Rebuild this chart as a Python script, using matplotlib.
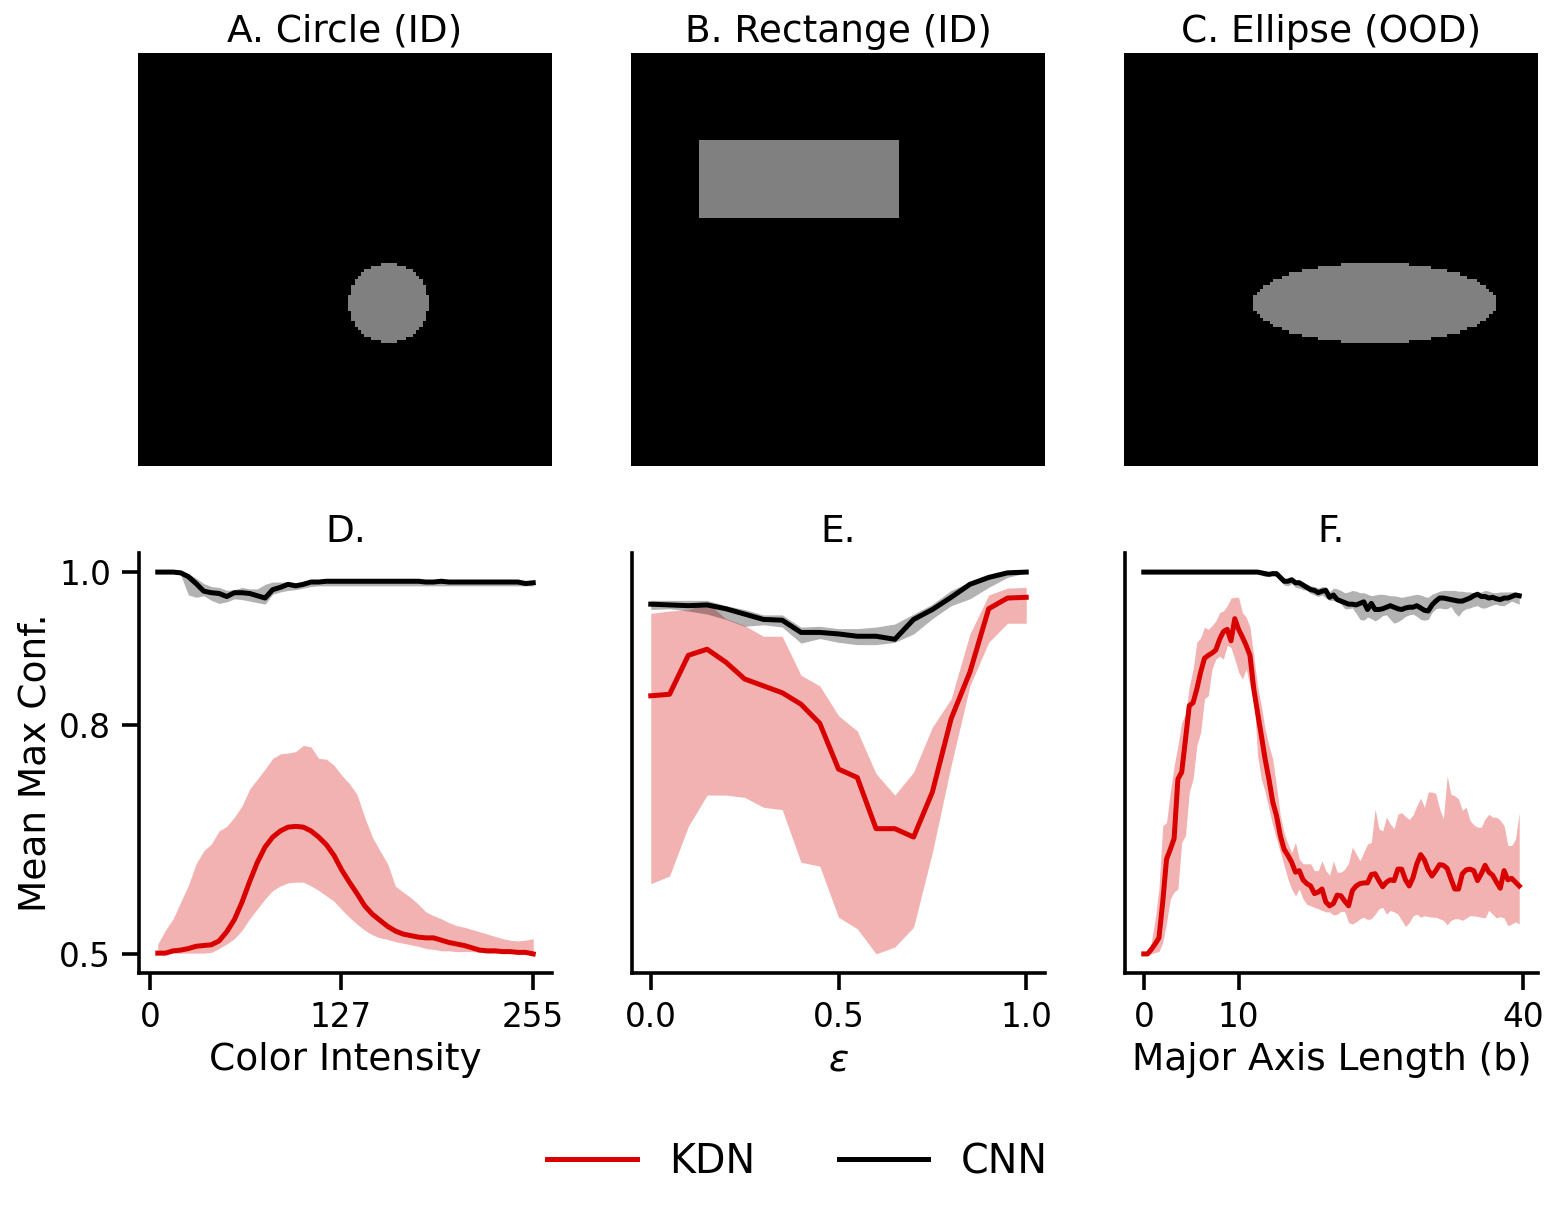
import numpy as np
import matplotlib
matplotlib.use("Agg")
import matplotlib.pyplot as plt

# ---------------- data ----------------
# Panel D: colour intensity sweep
d_x_step = 5.1
d_kdn_mean = [0.501,0.501,0.504,0.505,0.507,0.510,0.511,0.512,0.517,0.529,0.545,0.568,0.595,0.620,0.640,0.653,0.661,0.666,0.667,0.666,
              0.661,0.653,0.643,0.629,0.610,0.594,0.579,0.563,0.552,0.544,0.536,0.530,0.526,0.524,0.522,0.521,0.521,0.518,0.515,0.513,
              0.511,0.508,0.505,0.504,0.504,0.503,0.503,0.502,0.502,0.500]
d_kdn_hi = [0.513,0.531,0.546,0.568,0.590,0.618,0.635,0.644,0.661,0.667,0.679,0.694,0.716,0.729,0.742,0.756,0.762,0.763,0.765,0.773,
            0.771,0.756,0.755,0.747,0.734,0.723,0.709,0.679,0.653,0.635,0.618,0.589,0.581,0.574,0.565,0.555,0.550,0.546,0.541,0.537,
            0.535,0.532,0.529,0.526,0.523,0.520,0.518,0.517,0.518,0.520]
d_kdn_lo = [0.500,0.500,0.501,0.501,0.501,0.501,0.501,0.502,0.507,0.513,0.520,0.531,0.546,0.559,0.572,0.583,0.589,0.593,0.594,0.594,
            0.589,0.583,0.576,0.569,0.558,0.548,0.539,0.531,0.525,0.521,0.519,0.516,0.514,0.512,0.510,0.507,0.506,0.504,0.504,0.503,
            0.503,0.503,0.502,0.501,0.501,0.501,0.501,0.500,0.500,0.499]
d_cnn_mean = [1.000,1.000,1.000,0.999,0.994,0.985,0.975,0.973,0.972,0.968,0.973,0.973,0.972,0.969,0.966,0.977,0.980,0.984,0.982,0.984,
              0.987,0.987,0.988,0.988,0.988,0.988,0.988,0.988,0.988,0.988,0.988,0.988,0.988,0.988,0.988,0.987,0.987,0.988,0.987,0.987,
              0.987,0.987,0.987,0.987,0.987,0.987,0.987,0.987,0.985,0.986]
d_cnn_lo = [1.000,1.000,1.000,0.996,0.970,0.967,0.969,0.963,0.959,0.961,0.965,0.964,0.962,0.960,0.958,0.971,0.974,0.976,0.977,0.979,
            0.981] + [0.982] * 29
d_cnn_hi = [1.000,1.000,1.000,1.000,0.998,0.992,0.985,0.981,0.980,0.976,0.977,0.980,0.978,0.978,0.984,0.987,0.987,0.987,0.986,0.987,
            0.988] + [0.989] * 29

# Panel E: epsilon sweep
e_kdn_mean = [0.838,0.840,0.891,0.899,0.882,0.860,0.851,0.842,0.827,0.802,0.742,0.731,0.664,0.664,0.653,0.712,0.808,0.869,0.952,0.966,0.967]
e_kdn_hi = [0.946,0.949,0.951,0.960,0.939,0.930,0.916,0.916,0.865,0.851,0.812,0.792,0.736,0.708,0.738,0.797,0.834,0.919,0.970,0.979,0.980]
e_kdn_lo = [0.592,0.602,0.667,0.708,0.708,0.705,0.692,0.689,0.620,0.615,0.548,0.533,0.500,0.509,0.535,0.633,0.747,0.851,0.908,0.933,0.933]
e_cnn_mean = [0.958,0.957,0.956,0.957,0.952,0.945,0.938,0.937,0.921,0.921,0.919,0.916,0.916,0.912,0.938,0.951,0.967,0.984,0.993,0.999,1.000]
e_cnn_hi = [0.963,0.963,0.963,0.963,0.956,0.951,0.944,0.944,0.928,0.929,0.926,0.926,0.928,0.932,0.945,0.958,0.976,0.987,0.995,1.000,1.000]
e_cnn_lo = [0.951,0.952,0.949,0.945,0.938,0.929,0.931,0.928,0.907,0.913,0.908,0.905,0.905,0.908,0.919,0.939,0.956,0.965,0.980,0.993,0.999]

# Panel F: major axis length sweep
f_x_step = 0.4
f_kdn_mean = [0.500,0.500,0.506,0.513,0.521,0.568,0.624,0.637,0.651,0.729,0.738,0.781,0.825,0.829,0.847,0.869,0.887,0.891,0.894,0.898,
              0.912,0.922,0.925,0.910,0.939,0.925,0.915,0.904,0.891,0.847,0.816,0.786,0.755,0.729,0.699,0.681,0.655,0.637,0.629,0.620,
              0.607,0.609,0.597,0.592,0.589,0.579,0.581,0.585,0.568,0.563,
              0.566,0.577,0.576,0.569,0.563,0.583,0.589,0.592,0.593,0.593,0.604,0.605,0.596,0.588,0.594,0.597,0.596,0.611,0.611,0.597,
              0.589,0.600,0.618,0.630,0.623,0.610,0.602,0.609,0.617,0.616,0.612,0.598,0.585,0.585,0.605,0.610,0.611,0.609,0.596,0.605,
              0.616,0.607,0.603,0.594,0.586,0.609,0.597,0.599,0.594,0.589]
f_kdn_hi = [0.502,0.502,0.515,0.546,0.585,0.668,0.672,0.712,0.746,0.773,0.803,0.814,0.850,0.873,0.908,0.914,0.928,0.925,0.930,0.936,
            0.947,0.949,0.956,0.966,0.967,0.967,0.947,0.941,0.928,0.890,0.851,0.825,0.794,0.773,0.755,0.720,0.681,0.659,0.644,0.633,
            0.646,0.624,0.618,0.618,0.618,0.609,0.609,0.622,0.609,0.603,
            0.622,0.607,0.607,0.611,0.619,0.640,0.631,0.622,0.633,0.644,0.646,0.690,0.664,0.661,0.679,0.670,0.664,0.683,0.685,0.680,
            0.676,0.682,0.694,0.704,0.692,0.712,0.712,0.710,0.690,0.677,0.733,0.709,0.707,0.703,0.688,0.692,0.675,0.669,0.666,0.666,
            0.677,0.683,0.679,0.679,0.675,0.668,0.642,0.642,0.650,0.685]
f_kdn_lo = [0.498,0.499,0.500,0.502,0.503,0.515,0.541,0.572,0.581,0.585,0.646,0.655,0.712,0.729,0.773,0.790,0.834,0.838,0.873,0.886,
            0.890,0.886,0.904,0.901,0.886,0.869,0.860,0.873,0.851,0.842,0.760,0.729,0.712,0.690,0.668,0.651,0.633,0.616,0.598,0.585,
            0.576,0.585,0.572,0.565,0.563,0.561,0.559,0.557,0.555,0.555,
            0.551,0.552,0.556,0.555,0.541,0.539,0.542,0.546,0.548,0.545,0.546,0.552,0.559,0.561,0.552,0.557,0.555,0.552,0.544,0.536,
            0.541,0.550,0.552,0.548,0.550,0.549,0.548,0.548,0.546,0.544,0.538,0.544,0.546,0.546,0.544,0.547,0.550,0.550,0.549,0.548,
            0.547,0.557,0.552,0.547,0.549,0.547,0.537,0.539,0.542,0.539]
f_cnn_mean = [1.0] * 31 + [0.999,0.998,0.997,0.998,0.998,0.993,0.988,0.988,0.990,0.986,0.986,0.983,0.980,0.977,0.976,0.973,0.975,0.976,0.967,
              0.970,0.964,0.962,0.960,0.958,0.958,0.957,0.959,0.961,0.951,0.959,0.951,0.951,0.952,0.954,0.956,0.954,0.952,0.951,0.953,
              0.954,0.954,0.956,0.953,0.950,0.949,0.957,0.962,0.966,0.966,0.965,0.964,0.963,0.962,0.962,0.964,0.966,0.969,0.971,0.968,
              0.968,0.966,0.967,0.965,0.964,0.966,0.966,0.968,0.970,0.969]
f_cnn_lo = [1.0] * 31 + [0.996,0.994,0.995,0.995,0.994,0.990,0.983,0.982,0.985,0.980,0.979,0.977,0.976,0.972,0.970,0.968,0.970,0.966,0.963,
            0.963,0.962,0.958,0.952,0.952,0.953,0.946,0.938,0.937,0.941,0.939,0.936,0.939,0.943,0.944,0.938,0.933,0.935,0.938,0.942,
            0.944,0.945,0.942,0.938,0.937,0.938,0.947,0.952,0.953,0.952,0.952,0.955,0.947,0.942,0.949,0.952,0.953,0.955,0.956,0.953,
            0.953,0.955,0.957,0.958,0.956,0.956,0.959,0.962,0.960,0.958]
f_cnn_hi = [1.0] * 31 + [1.000,1.000,0.999,0.999,0.999,0.996,0.992,0.991,0.993,0.990,0.990,0.987,0.984,0.982,0.981,0.979,0.981,0.981,0.974,
            0.979,0.978,0.976,0.973,0.974,0.976,0.975,0.973,0.973,0.971,0.969,0.970,0.971,0.971,0.970,0.969,0.969,0.968,0.967,0.968,
            0.969,0.970,0.971,0.970,0.968,0.967,0.971,0.973,0.975,0.976,0.976,0.976,0.976,0.975,0.975,0.974,0.974,0.973,0.973,0.974,
            0.976,0.975,0.973,0.973,0.974,0.974,0.974,0.974,0.974,0.973]

top_titles = ["A. Circle (ID)", "B. Rectange (ID)", "C. Ellipse (OOD)"]
bottom_titles = ["D.", "E.", "F."]
xlabels = ["Color Intensity", r"$\varepsilon$", "Major Axis Length (b)"]
xticks = [[0, 127, 255], [0.0, 0.5, 1.0], [0, 10, 40]]
xticklabels = [["0", "127", "255"], ["0.0", "0.5", "1.0"], ["0", "10", "40"]]
yticks = [0.5, 0.8, 1.0]
ytick_labels = ["0.5", "0.8", "1.0"]
series_names = ["KDN", "CNN"]

# example images (128 x 128, gray shape value 128)
img_size = 128
shape_gray = 128
circle_center, circle_radius = (77, 77), 12.3
rect_rows, rect_cols = (27, 50), (21, 82)
ellipse_center, ellipse_axes = (77, 77), (37.6, 12.5)

# ---------------- build ----------------
d_x = d_x_step * np.arange(1, len(d_kdn_mean) + 1)
e_x = np.linspace(0, 1, len(e_kdn_mean))
f_x = f_x_step * np.arange(len(f_kdn_mean))

yy, xx = np.mgrid[0:img_size, 0:img_size]
img_circle = np.zeros((img_size, img_size))
img_circle[(xx - circle_center[0]) ** 2 + (yy - circle_center[1]) ** 2 <= circle_radius ** 2] = shape_gray
img_rect = np.zeros((img_size, img_size))
img_rect[rect_rows[0]:rect_rows[1] + 1, rect_cols[0]:rect_cols[1] + 1] = shape_gray
img_ell = np.zeros((img_size, img_size))
img_ell[((xx - ellipse_center[0]) / ellipse_axes[0]) ** 2 + ((yy - ellipse_center[1]) / ellipse_axes[1]) ** 2 <= 1] = shape_gray
images = [img_circle, img_rect, img_ell]

KDN_COLOR = "#d90000"
CNN_COLOR = "black"
FS = 27

W, H = 1558, 1217
fig = plt.figure(figsize=(W / 100, H / 100), dpi=100)

lefts = [138, 631, 1124]
for i in range(3):
    ax = fig.add_axes([lefts[i] / W, 1 - 466 / H, 414 / W, 413 / H])
    ax.imshow(images[i], cmap="gray", vmin=0, vmax=255, interpolation="nearest", aspect="auto")
    ax.axis("off")
    ax.set_title(top_titles[i], fontsize=FS, pad=8)

panels = [
    (d_x, d_kdn_mean, d_kdn_lo, d_kdn_hi, d_cnn_mean, d_cnn_lo, d_cnn_hi),
    (e_x, e_kdn_mean, e_kdn_lo, e_kdn_hi, e_cnn_mean, e_cnn_lo, e_cnn_hi),
    (f_x, f_kdn_mean, f_kdn_lo, f_kdn_hi, f_cnn_mean, f_cnn_lo, f_cnn_hi),
]
blefts = [139, 632, 1125]
handles = []
for i, (x, km, kl, kh, cm, cl, ch) in enumerate(panels):
    ax = fig.add_axes([blefts[i] / W, 1 - 973 / H, 413 / W, 420 / H])
    ax.fill_between(x, kl, kh, color=KDN_COLOR, alpha=0.3, linewidth=0)
    l1, = ax.plot(x, km, color=KDN_COLOR, lw=3.6, label=series_names[0])
    ax.fill_between(x, cl, ch, color=CNN_COLOR, alpha=0.3, linewidth=0)
    l2, = ax.plot(x, cm, color=CNN_COLOR, lw=3.6, label=series_names[1])
    if i == 0:
        handles = [l1, l2]
    ax.set_ylim(0.475, 1.025)
    ax.set_xticks(xticks[i])
    ax.set_xticklabels(xticklabels[i])
    if i == 0:
        ax.set_yticks(yticks)
        ax.set_yticklabels(ytick_labels)
        ax.set_ylabel("Mean Max Conf.", fontsize=FS)
    else:
        ax.set_yticks([])
    ax.set_xlabel(xlabels[i], fontsize=FS, labelpad=6)
    ax.set_title(bottom_titles[i], fontsize=FS, pad=8)
    for s in ["top", "right"]:
        ax.spines[s].set_visible(False)
    for s in ["left", "bottom"]:
        ax.spines[s].set_linewidth(2.6)
    ax.tick_params(axis="both", width=2.6, length=12, labelsize=23.5, pad=8)

fig.legend(handles, series_names, loc="center", bbox_to_anchor=(797.5 / W, 1 - 1162 / H),
           ncol=2, frameon=False, fontsize=28.5, handlelength=2.25, handletextpad=0.83,
           columnspacing=2.1)

fig.savefig("out.png", dpi=100)
